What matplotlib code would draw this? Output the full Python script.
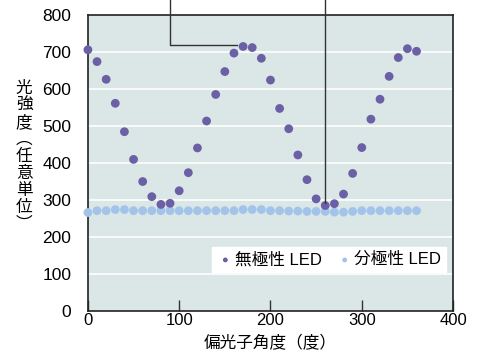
"""偏光子角度 vs 光強度 の散布図 (無極性 LED / 分極性 LED)."""

import matplotlib

matplotlib.use("Agg")
import matplotlib.pyplot as plt

plt.rcParams["font.family"] = ["Liberation Sans", "Noto Sans CJK JP", "DejaVu Sans"]

# 偏光子角度 (度)
angles = list(range(0, 361, 10))

# 無極性 LED
nonpolar = [707, 675, 627, 562, 485, 410, 350, 309, 288, 291,
            325, 374, 441, 514, 586, 648, 698, 716, 713, 684,
            625, 548, 493, 422, 355, 303, 285, 290, 316, 372,
            442, 519, 573, 635, 686, 710, 703]

# 分極性 LED
polar = [266, 271, 271, 274, 274, 271, 271, 271, 271, 271,
         271, 271, 271, 271, 271, 271, 271, 274, 274, 274,
         271, 271, 270, 270, 269, 269, 269, 267, 267, 269,
         271, 271, 271, 271, 271, 271, 271]

C_NONPOLAR = "#6b60a6"
C_POLAR = "#a3c4ea"
BG = "#dbe7e6"

fig = plt.figure(figsize=(4.83, 3.6), dpi=100)
ax = fig.add_axes([0.182, 0.137, 0.756, 0.820])
ax.set_facecolor(BG)

ax.set_xlim(0, 400)
ax.set_ylim(0, 800)
ax.set_xticks([0, 100, 200, 300, 400])
ax.set_yticks(range(0, 801, 100))

# 横方向の白い grid
for yv in range(100, 800, 100):
    ax.axhline(yv, color="white", linewidth=1.2, zorder=1)

ax.scatter(angles, polar, s=40, color=C_POLAR, edgecolors="none",
           zorder=3, label="分極性 LED", clip_on=False)
ax.scatter(angles, nonpolar, s=40, color=C_NONPOLAR, edgecolors="none",
           zorder=4, label="無極性 LED", clip_on=False)

# 上部注記への引き出し線 (figure 上端まで)
ax.plot([90, 90, 163], [860, 719, 719], color="#333333", linewidth=1.0,
        clip_on=False, zorder=5)
ax.plot([260, 260], [860, 291], color="#333333", linewidth=1.0,
        clip_on=False, zorder=5)

ax.tick_params(axis="x", direction="in", length=8, width=1, color="#333333",
               labelsize=12, pad=2)
ax.tick_params(axis="y", length=0, labelsize=12.5, pad=12)
for sp in ax.spines.values():
    sp.set_color("#222222")
    sp.set_linewidth(1.2)

ax.set_xlabel("偏光子角度（度）", fontsize=12, labelpad=5)

ylabel = "\n".join(["光", "強", "度", "︵", "任", "意", "単", "位", "︶"])
fig.text(0.05, 0.565, ylabel, fontsize=12, ha="center", va="center",
         linespacing=1.0, family=["Noto Sans CJK JP", "DejaVu Sans"])

handles, labels = ax.get_legend_handles_labels()
leg = ax.legend(handles[::-1], labels[::-1], loc="lower right",
                bbox_to_anchor=(0.98, 0.13), ncol=2, fontsize=12,
                frameon=True, fancybox=False, framealpha=1.0,
                edgecolor="white", facecolor="white", markerscale=0.55,
                handletextpad=0.05, columnspacing=0.9, borderpad=0.3,
                handlelength=1.0, borderaxespad=0)

fig.savefig("out.png", dpi=100)
